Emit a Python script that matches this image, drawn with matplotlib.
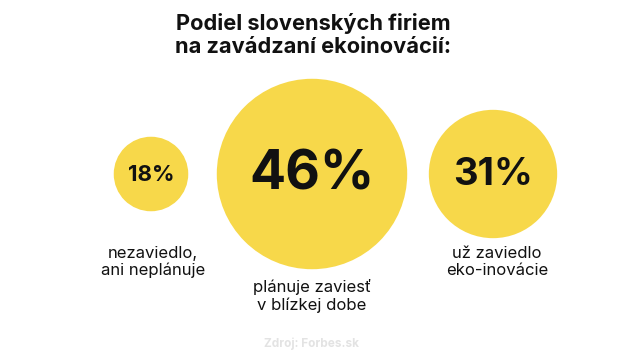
import matplotlib
matplotlib.use("Agg")
import matplotlib.pyplot as plt
from matplotlib.patches import Circle

# data
values = [18, 46, 31]
value_labels = ["18%", "46%", "31%"]
categories = ["nezaviedlo,\nani neplánuje", "plánuje zaviesť\nv blízkej dobe", "už zaviedlo\neko-inovácie"]
title = "Podiel slovenských firiem\nna zavádzaní ekoinovácií:"
source = "Zdroj: Forbes.sk"

# layout (pixel coordinates, y down)
W, H = 625, 356
centers_x = [151, 312, 493]
center_y = 174
px_per_pct = 2.07
value_sizes = [16, 38.5, 27.5]
label_xy = [(153, 262), (312, 296), (497, 262)]

YELLOW = "#F7D84A"
FONT = "Inter"


def main():
    fig = plt.figure(figsize=(W / 100, H / 100), dpi=100)
    ax = fig.add_axes([0, 0, 1, 1])
    ax.set_xlim(0, W)
    ax.set_ylim(H, 0)
    ax.set_aspect("equal")
    ax.axis("off")

    ax.text(313, 35, title, ha="center", va="center", fontsize=15.7,
            fontweight="bold", family=FONT, color="#111111", linespacing=1.2)

    for i, v in enumerate(values):
        ax.add_patch(Circle((centers_x[i], center_y), v * px_per_pct,
                            color=YELLOW, linewidth=0))
        ax.text(centers_x[i], center_y + 1, value_labels[i], ha="center", va="center",
                fontsize=value_sizes[i], fontweight="bold", family=FONT, color="#111111")
        lx, ly = label_xy[i]
        ax.text(lx, ly, categories[i], ha="center", va="center", fontsize=12,
                family=FONT, color="#111111", linespacing=1.15)

    ax.text(312, 344, source, ha="center", va="center", fontsize=8.5,
            fontweight="bold", family=FONT, color="#E3E3E3")

    fig.savefig("out.png", dpi=100)
    plt.close(fig)


if __name__ == "__main__":
    main()
